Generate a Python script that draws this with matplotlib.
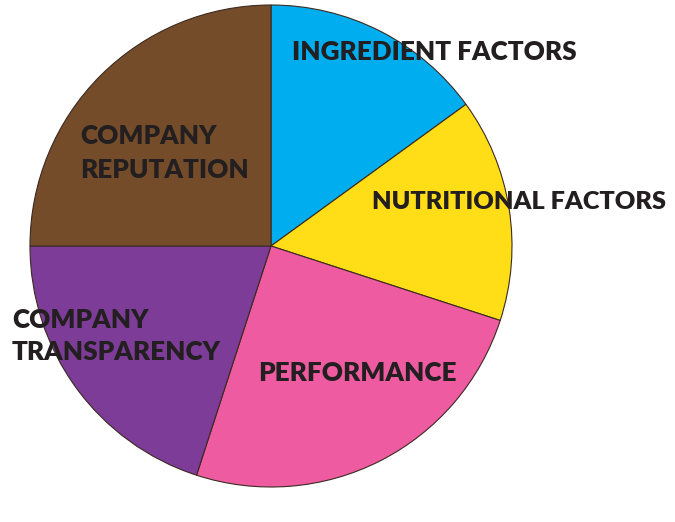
import matplotlib
matplotlib.use("Agg")
import matplotlib.pyplot as plt

labels = ["INGREDIENT FACTORS", "NUTRITIONAL FACTORS", "PERFORMANCE",
          "COMPANY\nTRANSPARENCY", "COMPANY\nREPUTATION"]
values = [15, 15, 25, 20, 25]
colors = ["#00aeef", "#ffde17", "#ef5ba1", "#7d3c97", "#754c29"]

W, H = 675, 522
fig = plt.figure(figsize=(W / 100, H / 100), dpi=100)
ax = fig.add_axes([0, 0, 1, 1])
ax.set_xlim(0, W)
ax.set_ylim(0, H)
ax.set_aspect("equal")
ax.axis("off")

ax.pie(values, colors=colors, startangle=90, counterclock=False,
       center=(271, 276), radius=241,
       wedgeprops=dict(edgecolor="#3b2a20", linewidth=0.8))
ax.set_xlim(0, W)
ax.set_ylim(0, H)

font = dict(family="Lato", weight="heavy", color="#231f20")
pos = [(292, 470, 18.8), (372, 320, 18.2), (258, 149, 18.8),
       (12, 186, 18.8), (80, 369, 18.8)]
for lab, (x, y, fs) in zip(labels, pos):
    ax.text(x, y, lab, ha="left", va="center", linespacing=1.45,
            fontsize=fs, **font)

fig.savefig("out.png", dpi=100)
